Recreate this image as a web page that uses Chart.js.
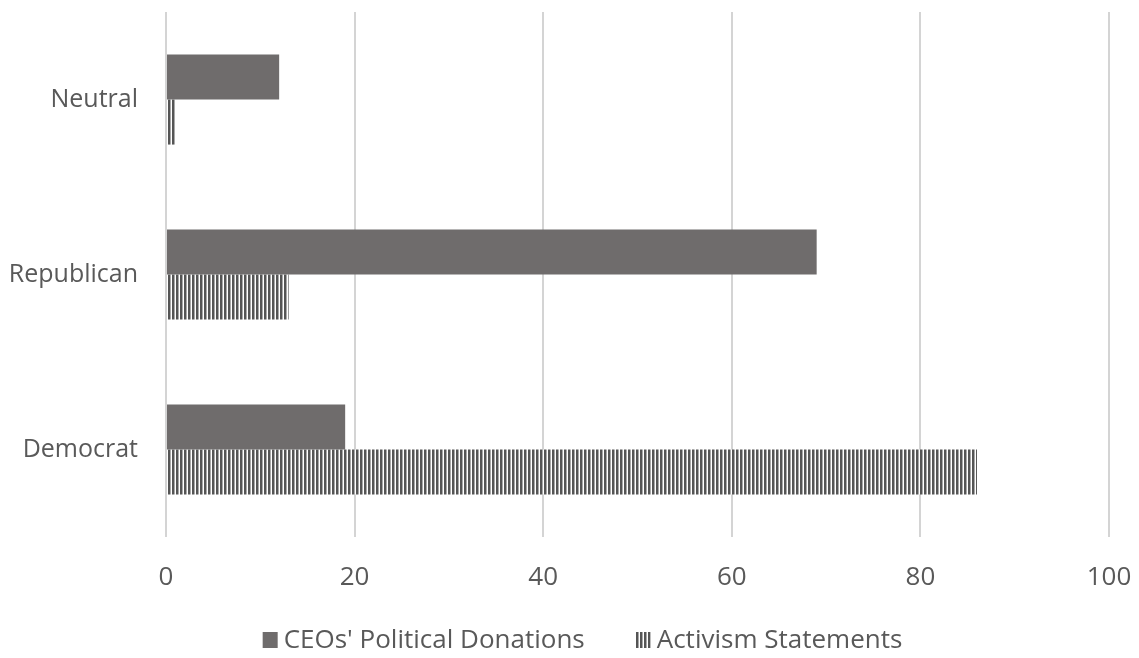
<!DOCTYPE html>
<html>
<head>
<meta charset="utf-8">
<script src="https://cdn.jsdelivr.net/npm/chart.js@4/dist/chart.umd.min.js"></script>
<style>
  html, body { margin: 0; padding: 0; background: #fff; }
  #wrap { width: 1139px; height: 658px; }
</style>
</head>
<body>
<div id="wrap"><canvas id="chart" width="1139" height="658"></canvas></div>
<script>
// data
const categories = ['Neutral', 'Republican', 'Democrat'];
const donations = [12, 69, 19];
const activism = [1, 13, 86];
const xTicks = [0, 20, 40, 60, 80, 100];

// vertical stripes for the second series
function stripePattern() {
  const c = document.createElement('canvas');
  c.width = 4; c.height = 4;
  const g = c.getContext('2d');
  g.fillStyle = '#ffffff';
  g.fillRect(0, 0, 4, 4);
  g.fillStyle = '#555555';
  g.fillRect(0, 0, 2.5, 4);
  return g.createPattern(c, 'repeat');
}

// legend drawn by hand: chart.js puts too little space between the items
const bottomLegend = {
  id: 'bottomLegend',
  afterDraw(chart) {
    const c = chart.ctx;
    c.save();
    c.font = '26px "Open Sans", sans-serif';
    const items = chart.data.datasets.map(ds => ({
      text: ds.label, fill: ds.backgroundColor, w: c.measureText(ds.label).width
    }));
    const box = 15, gapBox = 6, gapItem = 51;
    let total = items.reduce((s, it) => s + box + gapBox + it.w, 0) + gapItem * (items.length - 1);
    let x = 582.5 - total / 2;
    const base = 648;
    items.forEach(it => {
      c.fillStyle = it.fill;
      c.fillRect(x, base - 16, box, 16);
      x += box + gapBox;
      c.fillStyle = '#595959';
      c.textBaseline = 'alphabetic';
      c.fillText(it.text, x, base);
      x += it.w + gapItem;
    });
    c.restore();
  }
};

const ctx = document.getElementById('chart').getContext('2d');
Chart.defaults.font.family = '"Open Sans", sans-serif';
Chart.defaults.color = '#595959';

new Chart(ctx, {
  type: 'bar',
  data: {
    labels: categories,
    datasets: [{
      label: "CEOs' Political Donations",
      data: donations,
      backgroundColor: '#6f6c6c',
      borderWidth: 0
    }, {
      label: 'Activism Statements',
      data: activism,
      backgroundColor: stripePattern(),
      borderWidth: 0
    }]
  },
  options: {
    indexAxis: 'y',
    responsive: false,
    animation: false,
    categoryPercentage: 0.515,
    barPercentage: 1,
    layout: { padding: { top: 12, right: 30, left: 0, bottom: 45 } },
    scales: {
      x: {
        min: 0,
        max: 100,
        afterBuildTicks: (s) => { s.ticks = xTicks.map(v => ({ value: v })); },
        afterFit: (s) => { s.height = 76; s.paddingLeft = 0; s.paddingRight = 0; },
        grid: { color: '#d4d4d4', lineWidth: 2, drawTicks: false },
        border: { display: false },
        ticks: { padding: 25, font: { size: 26 }, color: '#595959' }
      },
      y: {
        afterFit: (s) => { s.width = 166; s.paddingTop = 0; s.paddingBottom = 0; },
        grid: { display: false, drawTicks: false },
        border: { display: false },
        ticks: { padding: 28, font: { size: 25 }, color: '#595959' }
      }
    },
    plugins: {
      legend: { display: false },
      tooltip: { enabled: false }
    }
  },
  plugins: [bottomLegend]
});
</script>
</body>
</html>
